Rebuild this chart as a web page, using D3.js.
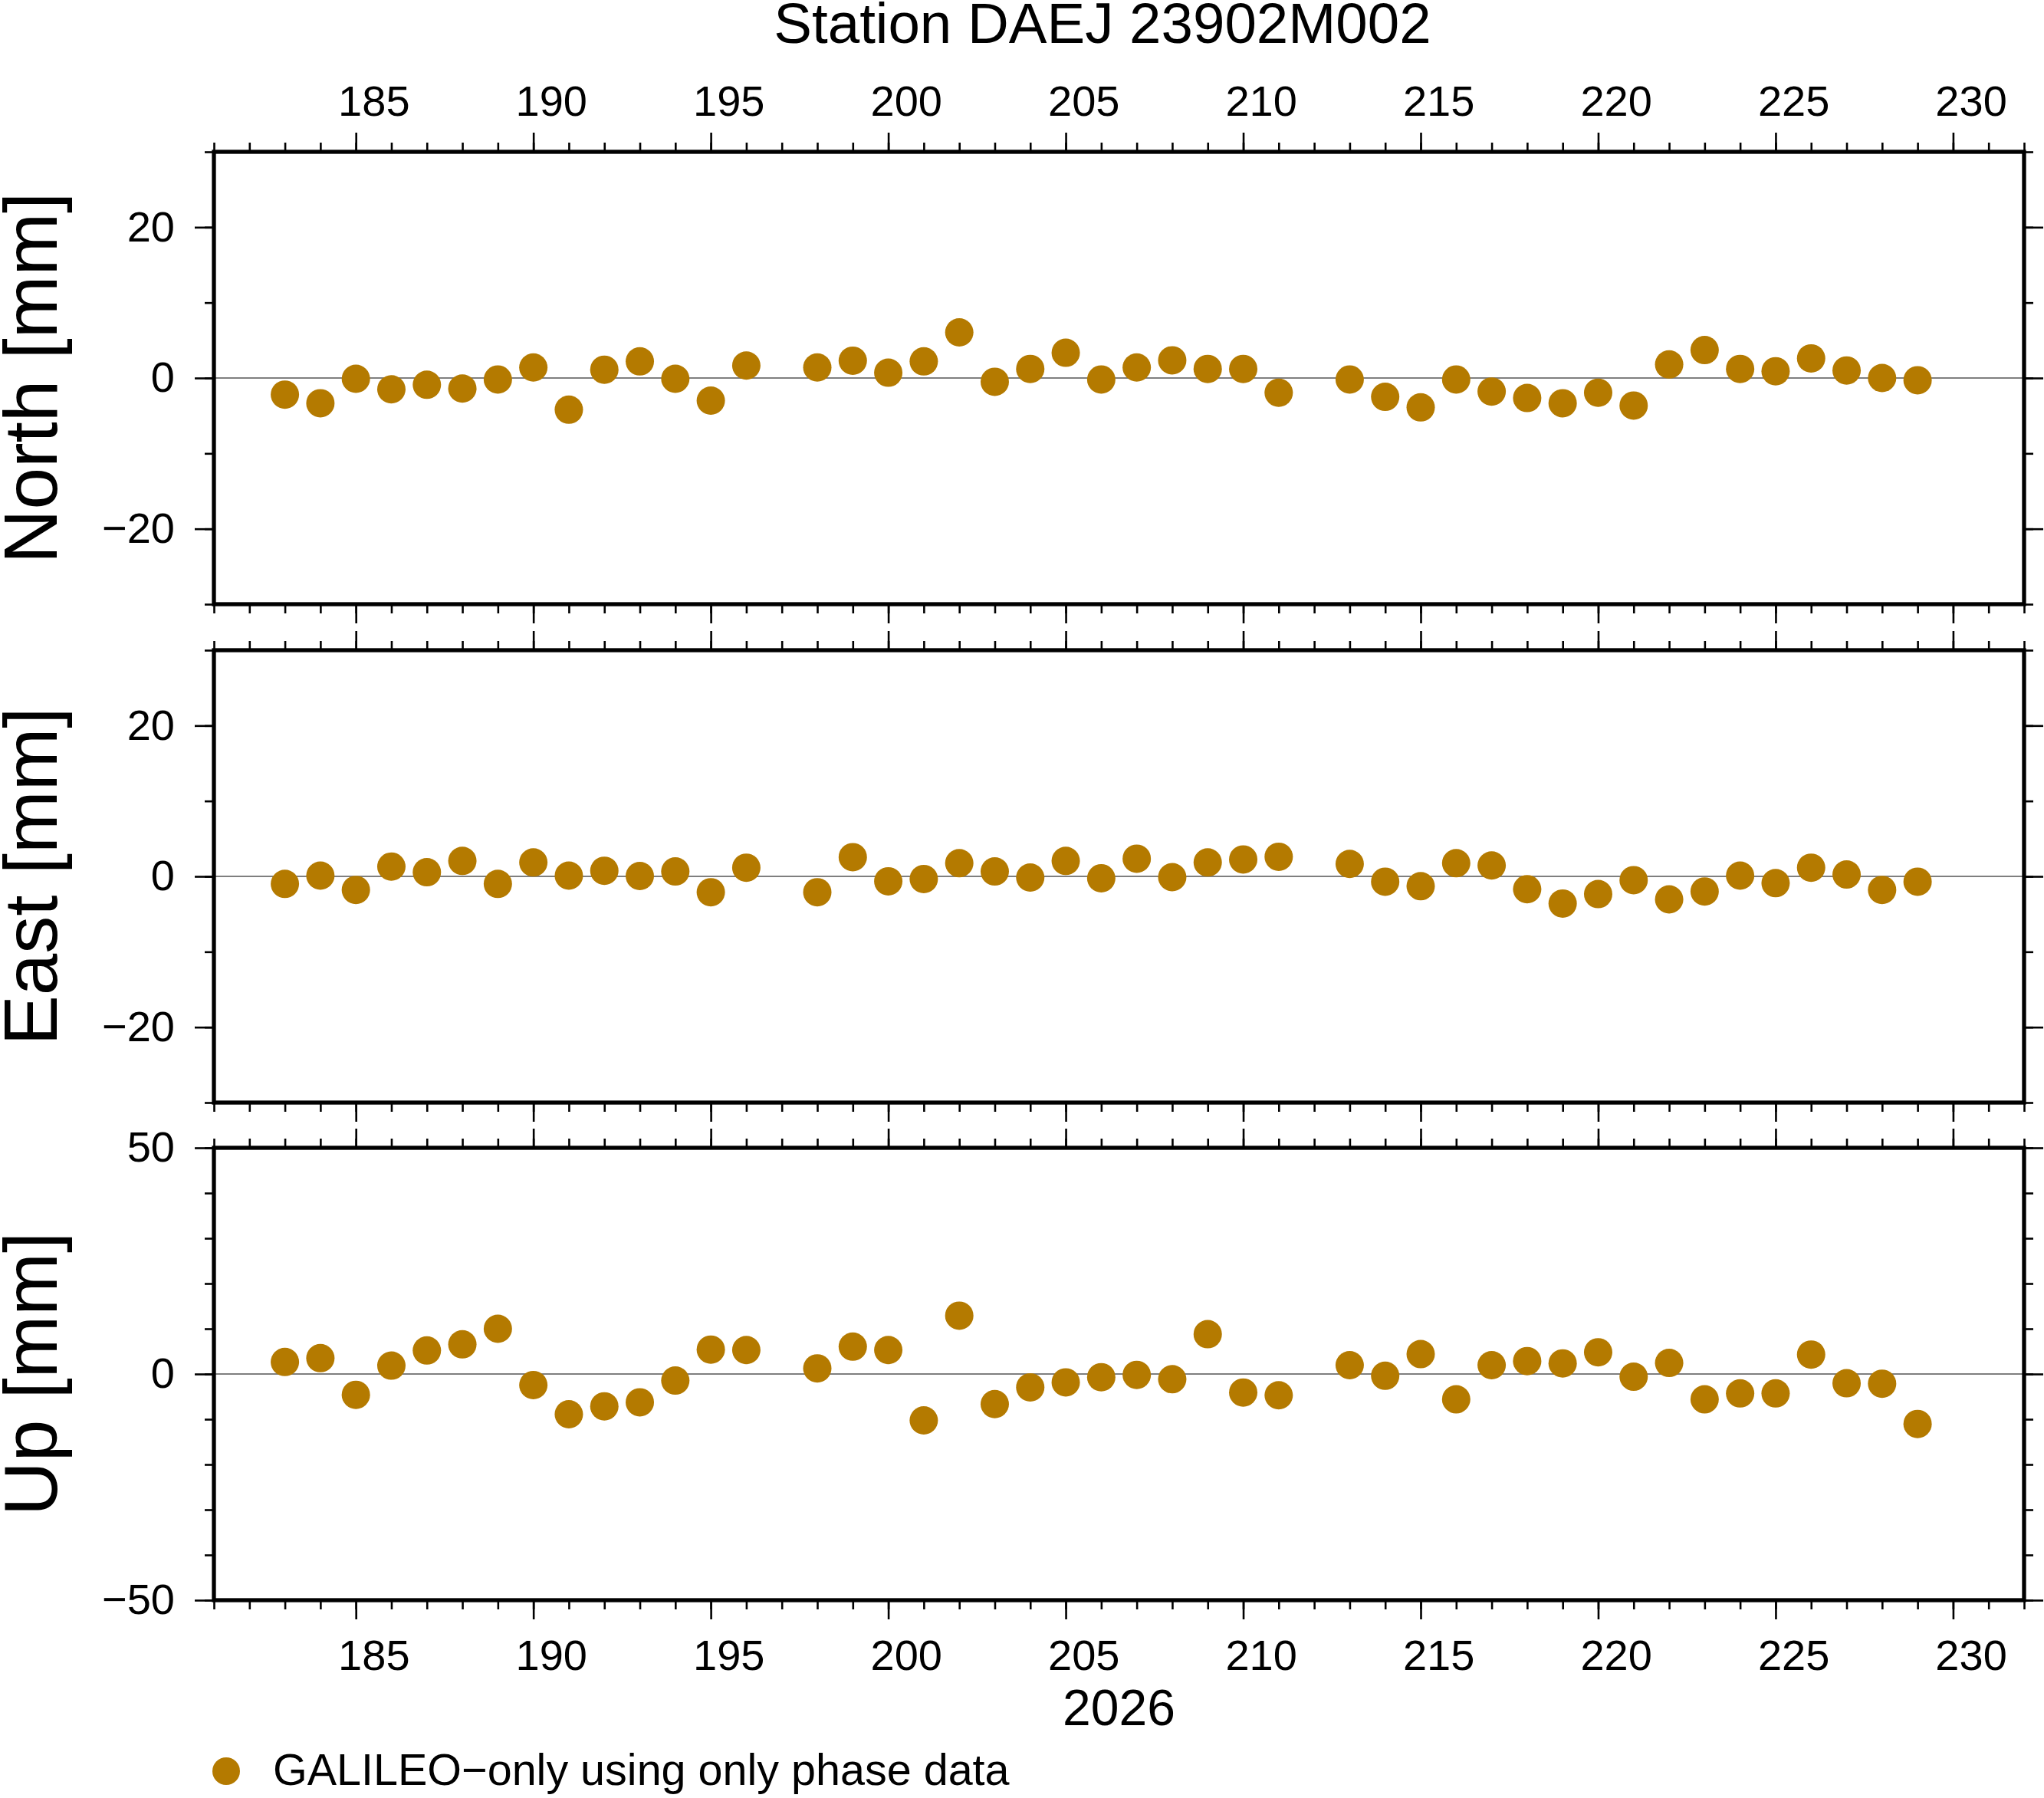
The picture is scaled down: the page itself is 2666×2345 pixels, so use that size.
<!DOCTYPE html>
<html lang="en">
<head>
    <meta charset="UTF-8">
    <title>Station DAEJ 23902M002</title>
    <script src="https://d3js.org/d3.v7.min.js"></script>
    <style>
        body {margin: 0; background: white;}
        text {
            font-family: "Liberation Sans", Arial, Helvetica, sans-serif;
            fill: black;
        }
    </style>
</head>
<body>
<script>
    const width = 2666;
    const height = 2345;

    // day of year (2026), gaps at 197 and 212
    const days = [183, 184, 185, 186, 187, 188, 189, 190, 191, 192, 193, 194, 195, 196,
                  198, 199, 200, 201, 202, 203, 204, 205, 206, 207, 208, 209, 210, 211,
                  213, 214, 215, 216, 217, 218, 219, 220, 221, 222, 223, 224, 225, 226, 227, 228, 229];

    const north = [-2.2, -3.35, -0.1, -1.5, -0.9, -1.4, -0.2, 1.4, -4.2, 1.1, 2.2, -0.1, -3.0, 1.65,
                   1.4, 2.3, 0.7, 2.2, 6.05, -0.5, 1.2, 3.35, -0.2, 1.4, 2.35, 1.2, 1.2, -1.95,
                   -0.2, -2.5, -3.9, -0.2, -1.8, -2.65, -3.35, -1.95, -3.65, 1.8, 3.7, 1.2, 0.9, 2.6, 1.0, 0, -0.3];

    const east = [-1.0, 0.1, -1.8, 1.3, 0.55, 2.05, -1.0, 1.85, 0.1, 0.75, 0.05, 0.65, -2.1, 1.15,
                  -2.1, 2.55, -0.65, -0.35, 1.75, 0.65, -0.15, 2.05, -0.25, 2.35, -0.1, 1.85, 2.25, 2.6,
                  1.65, -0.7, -1.3, 1.75, 1.45, -1.7, -3.6, -2.35, -0.5, -3.05, -2.0, 0.1, -0.9, 1.15, 0.25, -1.8, -0.7];

    const up = [2.65, 3.5, -4.6, 1.85, 5.2, 6.55, 10.0, -2.45, -8.9, -7.15, -6.25, -1.45, 5.4, 5.3,
                1.25, 6.05, 5.3, -10.25, 12.9, -6.65, -2.95, -1.85, -0.7, -0.2, -1.15, 8.8, -4.1, -4.7,
                1.95, -0.4, 4.4, -5.6, 1.95, 2.85, 2.35, 4.8, -0.6, 2.45, -5.6, -4.3, -4.3, 4.3, -2.05, -2.15, -11.05];

    const xDomain = [181, 232];
    const xMajor = [185, 190, 195, 200, 205, 210, 215, 220, 225, 230];

    const panelNames = ["North [mm]", "East [mm]", "Up [mm]"];
    const panelSeries = [north, east, up];
    const panelDomains = [[-30, 30], [-30, 30], [-50, 50]];
    const panelMajor = [[-20, 0, 20], [-20, 0, 20], [-50, 0, 50]];

    const titleText = "Station DAEJ 23902M002";
    const yearText = "2026";
    const legendText = "GALILEO\u2212only using only phase data";

    const dotColor = "#b47a00";

    const left = 279, right = 2640;
    const panelTops = [198, 848, 1497];
    const panelH = 590;
    const major = 25, minor = 12;

    const svg = d3.select("body").append("svg")
            .attr("width", width).attr("height", height);

    const x = d3.scaleLinear().domain(xDomain).range([left, right]);
    const xMinor = d3.range(xDomain[0], xDomain[1] + 1);
    // day labels sit in the middle of the day, not on the tick
    const halfDay = (x(1) - x(0)) / 2;

    svg.append("text")
            .attr("x", 1438).attr("y", 56)
            .attr("text-anchor", "middle")
            .style("font-size", "74.5px")
            .text(titleText);

    panelNames.forEach(function(name, i) {
        const top = panelTops[i];
        const y = d3.scaleLinear().domain(panelDomains[i]).range([top + panelH, top]);
        const yMinor = d3.range(panelDomains[i][0], panelDomains[i][1] + 1, 10);

        const g = svg.append("g").attr("class", "panel");

        // minor ticks all round
        addAxis(g, d3.axisTop(x).tickValues(xMinor).tickSize(minor).tickFormat(""), 0, top);
        addAxis(g, d3.axisBottom(x).tickValues(xMinor).tickSize(minor).tickFormat(""), 0, top + panelH);
        addAxis(g, d3.axisLeft(y).tickValues(yMinor).tickSize(minor).tickFormat(""), left, 0);
        addAxis(g, d3.axisRight(y).tickValues(yMinor).tickSize(minor).tickFormat(""), right, 0);

        // major ticks, labels only on the outer sides
        addAxis(g, d3.axisTop(x).tickValues(xMajor).tickSize(major).tickPadding(22)
                .tickFormat(i === 0 ? d3.format("d") : ""), 0, top)
                .selectAll(".tick text").attr("dx", halfDay);
        addAxis(g, d3.axisBottom(x).tickValues(xMajor).tickSize(major).tickPadding(26)
                .tickFormat(i === 2 ? d3.format("d") : ""), 0, top + panelH)
                .selectAll(".tick text").attr("dx", halfDay);
        addAxis(g, d3.axisLeft(y).tickValues(panelMajor[i]).tickSize(major).tickPadding(26)
                .tickFormat(d3.format("d")), left, 0);
        addAxis(g, d3.axisRight(y).tickValues(panelMajor[i]).tickSize(major).tickFormat(""), right, 0);

        // zero line
        g.append("line")
                .attr("x1", left).attr("x2", right)
                .attr("y1", y(0)).attr("y2", y(0))
                .style("stroke", "black")
                .style("stroke-width", 1.2);

        g.selectAll("circle.dot")
                .data(panelSeries[i])
                .enter()
                .append("circle")
                .attr("class", "dot")
                .attr("cx", (d, k) => x(days[k]))
                .attr("cy", d => y(d))
                .attr("r", 18.5)
                .style("fill", dotColor);

        // frame
        g.append("rect")
                .attr("x", left).attr("y", top)
                .attr("width", right - left).attr("height", panelH)
                .style("fill", "none")
                .style("stroke", "black")
                .style("stroke-width", 5.3);

        svg.append("text")
                .attr("transform", `translate(74,${top + panelH / 2}) rotate(-90)`)
                .attr("text-anchor", "middle")
                .style("font-size", "98px")
                .text(name);
    });

    function addAxis(g, axis, tx, ty) {
        const a = g.append("g")
                .attr("transform", `translate(${tx},${ty})`)
                .call(axis);
        a.select(".domain").remove();
        a.selectAll(".tick line")
                .style("stroke", "black")
                .style("stroke-width", 2.6);
        a.selectAll(".tick text")
                .style("font-family", "'Liberation Sans', Arial, sans-serif")
                .style("font-size", "56px")
                .style("fill", "black");
        return a;
    }

    svg.append("text")
            .attr("x", (left + right) / 2).attr("y", 2250)
            .attr("text-anchor", "middle")
            .style("font-size", "66px")
            .text(yearText);

    // legend
    svg.append("circle")
            .attr("cx", 295).attr("cy", 2310)
            .attr("r", 18)
            .style("fill", dotColor);

    svg.append("text")
            .attr("x", 356).attr("y", 2328)
            .style("font-size", "57.5px")
            .text(legendText);
</script>

</body>
</html>
